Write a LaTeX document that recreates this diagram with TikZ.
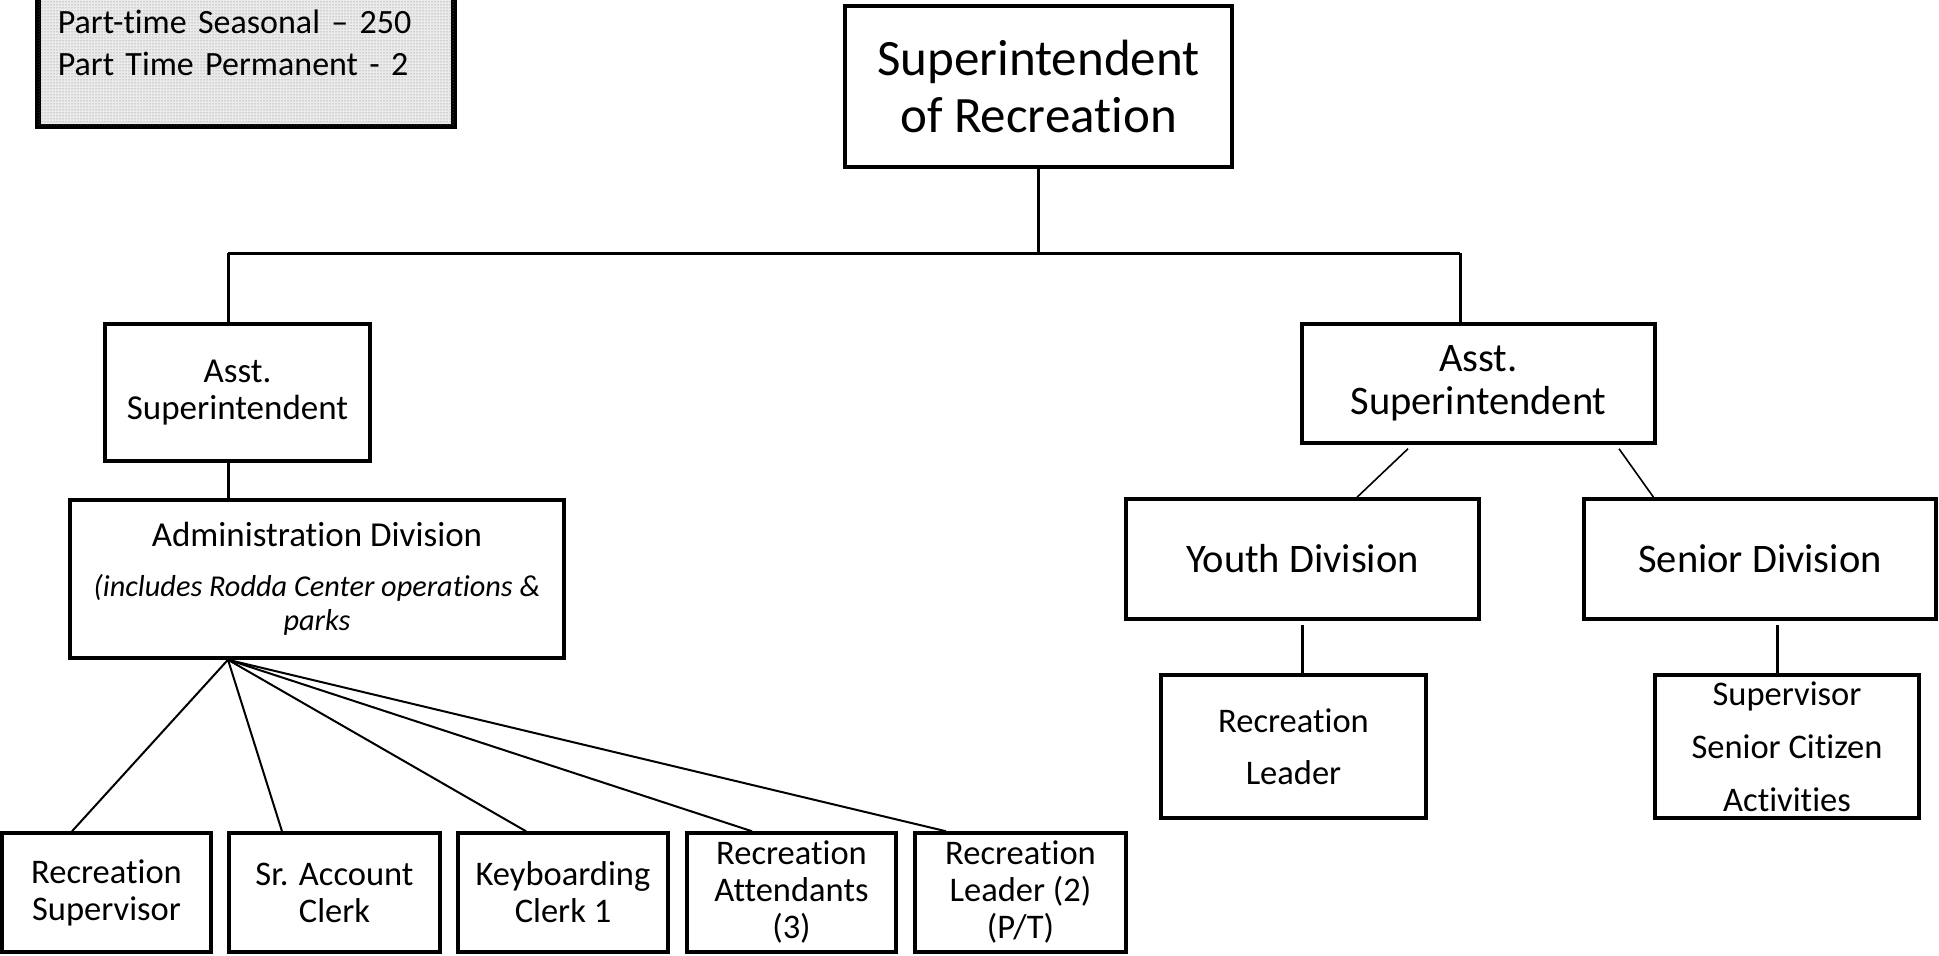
\documentclass[tikz,border=0pt]{standalone}
\usepackage{fontspec}
\setmainfont[Ligatures=NoCommon]{Carlito}
\usetikzlibrary{patterns}
\begin{document}
\begin{tikzpicture}[x=1pt,y=-1pt,
  box/.style={draw, line width=3.5pt, inner sep=0pt, align=center, fill=white},
  txt/.style={font=\fontsize{34.5}{37}\selectfont},
  link/.style={line width=3pt},
  fanline/.style={line width=2pt},
  sideline/.style={line width=1.6pt}]
\useasboundingbox (0,0) rectangle (1939,956);

% staffing note (upper left), dotted grey fill
\node[draw, line width=5.5pt, fill=black!8,
      postaction={pattern=dots, pattern color=black!55},
      anchor=south west, inner xsep=20pt, inner ysep=0pt,
      text width=376pt, minimum height=166pt, align=left,
      font=\fontsize{34}{42}\selectfont] (note) at (35,129)
  {Part-time Seasonal -- 250\\Part Time Permanent - 2};

% top level
\node[box, minimum width=387pt, minimum height=161pt, font=\fontsize{51}{57}\selectfont]
  (sup) at (1038.5,86.5) {Superintendent\\of Recreation};

% assistant superintendents
\node[box, minimum width=265pt, minimum height=137pt, font=\fontsize{35}{37}\selectfont]
  (la) at (237.5,392.5) {Asst.\\Superintendent};
\node[box, minimum width=353pt, minimum height=119pt, font=\fontsize{40.5}{43}\selectfont]
  (ra) at (1478.5,383.5) {Asst.\\Superintendent};

% divisions
\node[box, minimum width=494pt, minimum height=158pt, font=\fontsize{30.3}{34}\selectfont]
  (admin) at (317,579)
  {{\fontsize{35}{42}\selectfont Administration Division}\\[16pt]
   \itshape (includes Rodda Center operations \&\\ \itshape parks};
\node[box, minimum width=353pt, minimum height=120pt, font=\fontsize{40.5}{43}\selectfont]
  (yd) at (1302.5,559) {Youth Division};
\node[box, minimum width=352pt, minimum height=120pt, font=\fontsize{40.5}{43}\selectfont]
  (sd) at (1760,559) {Senior Division};

% administration staff
\node[box, txt, minimum width=209pt, minimum height=119pt] (rs)  at (106.5,892.5) {Recreation\\Supervisor};
\node[box, txt, minimum width=211pt, minimum height=119pt] (sac) at (334.5,892.5) {Sr. Account\\Clerk};
\node[box, txt, minimum width=210pt, minimum height=119pt] (kc)  at (563,892.5) {Keyboarding\\Clerk 1};
\node[box, txt, minimum width=209pt, minimum height=119pt] (rat) at (791.5,892.5) {Recreation\\Attendants\\(3)};
\node[box, txt, minimum width=211pt, minimum height=119pt] (rlt) at (1020.5,892.5) {Recreation\\Leader (2)\\(P/T)};

% youth and senior staff
\node[box, minimum width=265pt, minimum height=143pt, font=\fontsize{34.5}{52}\selectfont]
  (yrl) at (1293.5,746.5) {Recreation\\Leader};
\node[box, minimum width=264pt, minimum height=143pt, font=\fontsize{34.5}{53}\selectfont]
  (ssc) at (1787,746.5) {Supervisor\\Senior Citizen\\Activities};

% bus from the superintendent
\coordinate (busL) at (228,253);
\coordinate (busR) at (1460,253);
\draw[link] (sup.south) -- (sup.south |- busL);
\draw[link] (busL) -- (busR);
\draw[link] (busL) -- (busL |- la.north);
\draw[link] (busR) -- (busR |- ra.north);

% administration branch
\draw[link] (la.south -| busL) -- (admin.north -| busL);
\coordinate (fan) at (admin.south -| busL);
\draw[fanline] (fan) -- ([xshift=-34.5pt]rs.north);
\draw[fanline] (fan) -- ([xshift=-52.5pt]sac.north);
\draw[fanline] (fan) -- ([xshift=-37pt]kc.north);
\draw[fanline] (fan) -- ([xshift=-39.5pt]rat.north);
\draw[fanline] (fan) -- ([xshift=-74.5pt]rlt.north);

% youth and senior branches
\draw[sideline] ([xshift=-70.5pt,yshift=-4pt]ra.south) -- ([xshift=54.5pt]yd.north);
\draw[sideline] ([xshift=140.5pt,yshift=-4pt]ra.south) -- ([xshift=-106.5pt]sd.north);
\draw[link] ([yshift=-4pt]yd.south) -- (yd.south |- yrl.north);
\coordinate (sdv) at ([xshift=17pt]sd.south);
\draw[link] ([yshift=-4pt]sdv) -- (sdv |- ssc.north);
\end{tikzpicture}
\end{document}
